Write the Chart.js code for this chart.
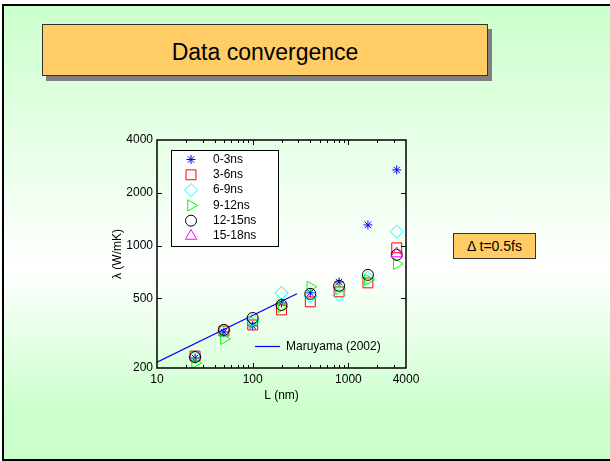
<!DOCTYPE html>
<html>
<head>
<meta charset="utf-8">
<script src="https://cdn.jsdelivr.net/npm/chart.js@4.4.1/dist/chart.umd.min.js"></script>
<style>
  html, body { margin: 0; padding: 0; width: 610px; height: 461px; overflow: hidden; background: #fff;
    font-family: Arial, "Liberation Sans", sans-serif; }
  #frame { position: absolute; left: 2px; top: 4px; width: 640px; height: 453px; border: 2px solid #000;
    background: linear-gradient(to bottom, #ccffcc 0%, #ffffff 58%, #ccffcc 90%); }
  #title { position: absolute; left: 42px; top: 24px; width: 444px; height: 50px; background: #ffcc66;
    border: 1px solid #333; box-shadow: 4px 5px 0 #808080; font-size: 23px; line-height: 54px;
    text-align: center; color: #000; }
  #dt { position: absolute; left: 453px; top: 233px; width: 81px; height: 24px; background: #ffcc66;
    border: 1px solid #333; font-size: 14px; line-height: 25px; text-align: center; color: #000; }
  #chart { position: absolute; left: 0; top: 0; }
</style>
</head>
<body>
<div id="frame"></div>
<div id="title">Data convergence</div>
<div id="dt">&Delta; t=0.5fs</div>
<canvas id="chart" width="610" height="461"></canvas>
<script>
// System length L (nm) for each simulation
const lengths = [25, 50, 100, 200, 400, 800, 1600, 3200];

// Thermal conductivity λ (W/mK) averaged over each time window
const win0to3   = [228, 321, 348, 470, 537, 620, 1310, 2700];
const win3to6   = [234, 325, 352, 429, 477, 544, 612, 970];
const win6to9   = [231, 325, 376, 537, 515, 522, 653, 1200];
const win9to12  = [214, 293, 366, 446, 581, 565, 637, 786];
const win12to15 = [231, 330, 386, 458, 530, 589, 680, 885];
const win15to18 = [null, null, null, null, null, null, null, 900];

// Maruyama (2002) reference fit, end points
const maruyamaL = [10, 290];
const maruyamaK = [216, 530];

// Axis tick labels and minor tick positions
const xTickLabels = [10, 100, 1000, 4000];
const yTickLabels = [200, 500, 1000, 2000, 4000];
const xMinorTicks = [20, 30, 40, 50, 60, 70, 80, 90, 200, 300, 400, 500, 600, 700, 800, 900, 2000, 3000];
const xMajorTicks = [100, 1000];
const yMajorTicks = [500, 1000, 2000];

const FONT = 'Arial, "Liberation Sans", sans-serif';

function points(vals) {
  const out = [];
  lengths.forEach((L, i) => { if (vals[i] !== null) out.push({ x: L, y: vals[i] }); });
  return out;
}

const series = [
  { label: '0-3ns',   vals: win0to3,   color: '#0000ff', style: 'star',     radius: 4.5, rotation: 0 },
  { label: '3-6ns',   vals: win3to6,   color: '#ff0000', style: 'rect',     radius: 7,   rotation: 0 },
  { label: '6-9ns',   vals: win6to9,   color: '#00ffff', style: 'rectRot',  radius: 6.5, rotation: 0 },
  { label: '9-12ns',  vals: win9to12,  color: '#00ff00', style: 'triangle', radius: 6.5, rotation: 90 },
  { label: '12-15ns', vals: win12to15, color: '#000000', style: 'circle',   radius: 5.5, rotation: 0 },
  { label: '15-18ns', vals: win15to18, color: '#ff00ff', style: 'triangle', radius: 6.5, rotation: 0 }
];

const datasets = series.map((s, i) => ({
  label: s.label,
  data: points(s.vals),
  showLine: false,
  pointStyle: s.style,
  pointRadius: s.radius,
  pointRotation: s.rotation,
  pointBorderColor: s.color,
  pointBackgroundColor: 'rgba(0,0,0,0)',
  pointBorderWidth: 1,
  order: series.length - i
}));

datasets.push({
  label: 'Maruyama (2002)',
  type: 'line',
  data: maruyamaL.map((L, i) => ({ x: L, y: maruyamaK[i] })),
  borderColor: '#0000ff',
  borderWidth: 1.2,
  pointRadius: 0,
  fill: false,
  order: 20
});

// Box frame, inward tick marks and the in-plot legends
const decorations = {
  id: 'decorations',
  afterDatasetsDraw(chart) {
    const { ctx, chartArea: a, scales: { x, y } } = chart;
    ctx.save();
    ctx.strokeStyle = '#000';
    ctx.lineWidth = 1;
    ctx.beginPath();
    xMajorTicks.forEach(v => {
      const px = Math.round(x.getPixelForValue(v)) + 0.5;
      ctx.moveTo(px, a.bottom); ctx.lineTo(px, a.bottom - 5);
      ctx.moveTo(px, a.top); ctx.lineTo(px, a.top + 5);
    });
    xMinorTicks.forEach(v => {
      const px = Math.round(x.getPixelForValue(v)) + 0.5;
      ctx.moveTo(px, a.bottom); ctx.lineTo(px, a.bottom - 3);
      ctx.moveTo(px, a.top); ctx.lineTo(px, a.top + 3);
    });
    yMajorTicks.forEach(v => {
      const py = Math.round(y.getPixelForValue(v)) + 0.5;
      ctx.moveTo(a.left, py); ctx.lineTo(a.left + 5, py);
      ctx.moveTo(a.right, py); ctx.lineTo(a.right - 5, py);
    });
    ctx.stroke();

    ctx.lineWidth = 1.5;
    ctx.strokeRect(a.left, a.top, a.right - a.left, a.bottom - a.top);

    // series legend (upper left)
    const bx = a.left + 14, by = a.top + 10, bw = 107, bh = 96;
    ctx.fillStyle = '#fff';
    ctx.fillRect(bx, by, bw, bh);
    ctx.lineWidth = 1;
    ctx.strokeStyle = '#000';
    ctx.strokeRect(bx + 0.5, by + 0.5, bw, bh);
    ctx.font = '12px ' + FONT;
    ctx.textBaseline = 'middle';
    ctx.textAlign = 'left';
    series.forEach((s, i) => {
      const ry = by + 9.5 + i * 15.3;
      ctx.strokeStyle = s.color;
      ctx.fillStyle = 'rgba(0,0,0,0)';
      Chart.helpers.drawPoint(ctx, { pointStyle: s.style, radius: s.radius, rotation: s.rotation, borderWidth: 1 }, bx + 20, ry);
      ctx.fillStyle = '#000';
      ctx.fillText(s.label, bx + 42, ry);
    });

    // reference-line legend (lower right)
    const ly = Math.round(y.getPixelForValue(267)) + 0.5;
    ctx.strokeStyle = '#0000ff';
    ctx.lineWidth = 1.2;
    ctx.beginPath();
    ctx.moveTo(a.left + 98, ly); ctx.lineTo(a.left + 123, ly);
    ctx.stroke();
    ctx.fillStyle = '#000';
    ctx.fillText('Maruyama (2002)', a.left + 129, ly);
    ctx.restore();
  }
};

const tickFont = { family: FONT, size: 12 };

new Chart(document.getElementById('chart'), {
  type: 'scatter',
  data: { datasets },
  options: {
    responsive: false,
    animation: false,
    layout: { padding: { left: 110, top: 140, right: 204, bottom: 58 } },
    plugins: { legend: { display: false }, tooltip: { enabled: false } },
    scales: {
      x: {
        type: 'logarithmic', min: 10, max: 4000,
        afterBuildTicks: s => { s.ticks = xTickLabels.map(v => ({ value: v })); },
        afterFit: s => { s.height = 35; },
        grid: { display: false, drawTicks: false },
        border: { display: false },
        ticks: { color: '#000', font: tickFont, padding: 4, maxRotation: 0, autoSkip: false, callback: v => String(v) },
        title: { display: true, text: 'L (nm)', color: '#000', font: tickFont, padding: 0 }
      },
      y: {
        type: 'logarithmic', min: 200, max: 4000,
        afterBuildTicks: s => { s.ticks = yTickLabels.map(v => ({ value: v })); },
        afterFit: s => { s.width = 47; },
        grid: { display: false, drawTicks: false },
        border: { display: false },
        ticks: { color: '#000', font: tickFont, padding: 4, autoSkip: false, callback: v => String(v) },
        title: { display: true, text: 'λ (W/mK)', color: '#000', font: tickFont, padding: 0 }
      }
    }
  },
  plugins: [decorations]
});
</script>
</body>
</html>
